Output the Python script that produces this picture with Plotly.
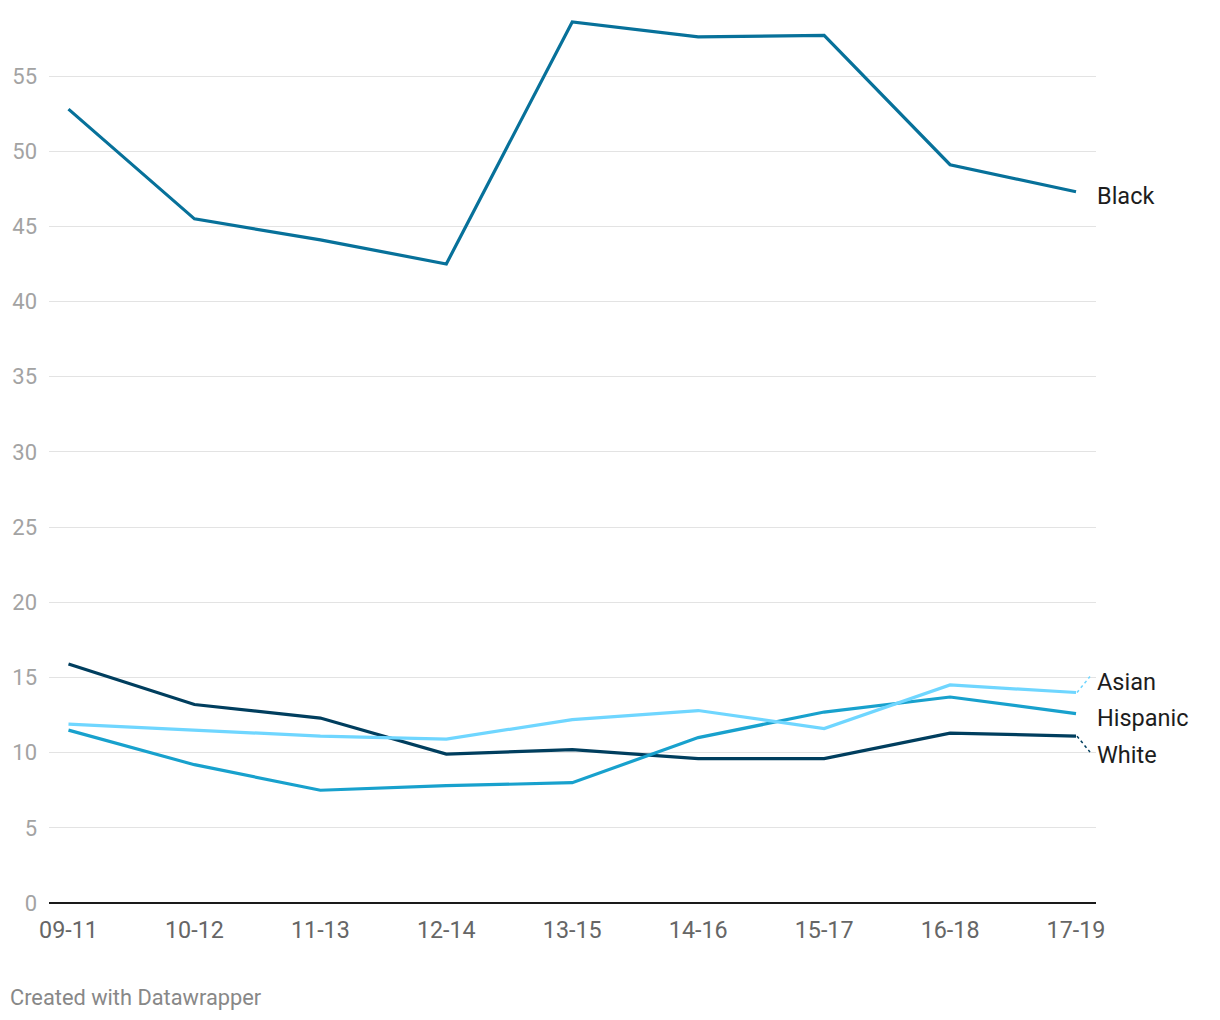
import plotly.graph_objects as go

periods = ["09-11", "10-12", "11-13", "12-14", "13-15", "14-16", "15-17", "16-18", "17-19"]
black = [52.8, 45.5, 44.1, 42.5, 58.6, 57.6, 57.7, 49.1, 47.3]
white = [15.9, 13.2, 12.3, 9.9, 10.2, 9.6, 9.6, 11.3, 11.1]
asian = [11.9, 11.5, 11.1, 10.9, 12.2, 12.8, 11.6, 14.5, 14.0]
hispanic = [11.5, 9.2, 7.5, 7.8, 8.0, 11.0, 12.7, 13.7, 12.6]
yticks = [0, 5, 10, 15, 20, 25, 30, 35, 40, 45, 50, 55]

series = [
    ("White", white, "#003e5e", -19, "down"),
    ("Hispanic", hispanic, "#18a1cd", -4, None),
    ("Asian", asian, "#6fd6ff", 11, "up"),
    ("Black", black, "#07719a", -4, None),
]

xs = list(range(len(periods)))
fig = go.Figure()
for name, vals, color, _, _ in series:
    fig.add_trace(go.Scatter(x=xs, y=vals, mode="lines", name=name,
                             line=dict(color=color, width=3.2), hoverinfo="skip"))

annotations = []
shapes = []
last = xs[-1]
for name, vals, color, ysh, conn in series:
    annotations.append(dict(x=last, y=vals[-1], xref="x", yref="y", text=name,
                            showarrow=False, xanchor="left", yanchor="middle",
                            xshift=19, yshift=ysh,
                            font=dict(family="Roboto", size=23.5, color="#1d1d1d")))
    if conn:
        dy = 16 if conn == "up" else -16
        shapes.append(dict(type="line", xref="x", yref="y",
                           xsizemode="pixel", ysizemode="pixel",
                           xanchor=last, yanchor=vals[-1],
                           x0=1, x1=14, y0=0, y1=dy,
                           line=dict(color=color, width=1.5, dash="dot")))

# page has an 8px body margin; figure sized to fit the 1220x1020 window
W, H = 1212, 1012
ml, mr, mt, mb = 40.5, 124, 0, 117
pw, ph = W - ml - mr, H - mt - mb

annotations.append(dict(x=(-1 - ml) / pw, y=(H - mb - 989) / ph, xref="paper", yref="paper",
                        text="Created with Datawrapper",
                        showarrow=False, xanchor="left", yanchor="middle",
                        font=dict(family="Roboto", size=21.8, color="#888888")))

fig.update_layout(
    width=W, height=H,
    margin=dict(l=ml, r=mr, t=mt, b=mb),
    paper_bgcolor="white", plot_bgcolor="white",
    showlegend=False,
    font=dict(family="Roboto"),
    annotations=annotations,
    shapes=shapes,
    xaxis=dict(range=[-19.5 / 126, 8 + 20 / 126], tickvals=xs, ticktext=periods,
               showgrid=False, zeroline=False, showline=False,
               tickfont=dict(family="Roboto", size=23.3, color="#666666"),
               ticks="", ticklabelstandoff=11),
    yaxis=dict(range=[0, ph / 15.036], tickvals=yticks, ticktext=[str(v) for v in yticks],
               showgrid=True, gridcolor="#e3e3e3", gridwidth=1.3,
               zeroline=True, zerolinecolor="#1a1a1a", zerolinewidth=2,
               showline=False, ticks="",
               tickfont=dict(family="Roboto", size=22, color="#a3a3a3"),
               ticklabelstandoff=11),
)

fig.write_html("out.html")
